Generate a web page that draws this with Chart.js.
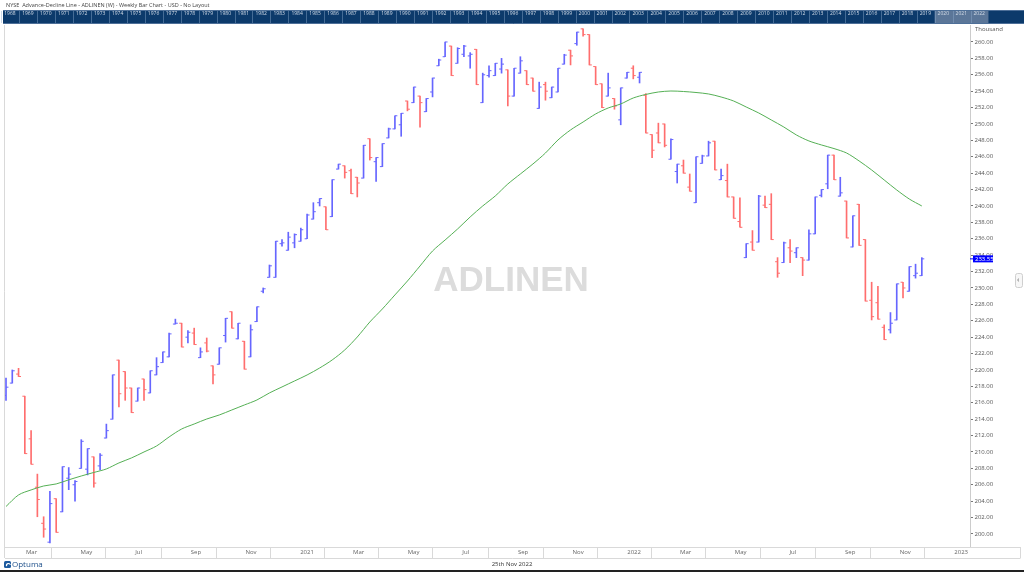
<!DOCTYPE html>
<html>
<head>
<meta charset="utf-8">
<script src="https://cdn.jsdelivr.net/npm/chart.js@4.4.1/dist/chart.umd.min.js"></script>
<style>
  html, body { margin: 0; padding: 0; background: #fff; }
  #wrap { width: 1024px; height: 572px; }
</style>
</head>
<body>
<div id="wrap"><canvas id="adl" width="1024" height="572"></canvas></div>
<script>
// Weekly OHLC of the NYSE Advance-Decline Line (thousands), first bar week of 10 Feb 2020
const firstBarDate = '2020-02-10';

const opens = [
  216.9, 218.4, 219.5, 216.8, 211.6, 205.7, 201.3, 199.0, 204.3, 202.7,
  206.8, 206.0, 208.0, 207.9, 209.4, 208.3, 211.7, 214.0, 221.2, 219.8,
  217.8, 216.2, 218.9, 217.2, 219.4, 220.9, 221.6, 225.6, 225.7, 224.0,
  224.5, 221.5, 223.3, 220.5, 220.7, 224.2, 227.1, 223.8, 223.5, 221.6,
  225.9, 229.6, 231.3, 231.3, 235.4, 234.6, 235.5, 235.7, 236.0, 238.4,
  240.4, 239.9, 238.7, 244.5, 244.9, 244.3, 243.5, 243.4, 248.2, 245.4,
  244.8, 248.3, 249.4, 249.9, 252.8, 252.6, 253.4, 251.5, 253.9, 257.1,
  258.2, 259.5, 257.4, 258.5, 258.3, 259.1, 252.6, 255.9, 255.9, 256.7,
  256.6, 253.4, 256.2, 256.5, 255.6, 251.9, 254.8, 253.2, 253.9, 257.3,
  259.0, 259.8, 261.6, 260.9, 257.0, 254.9, 253.4, 253.1, 250.5, 255.6,
  256.8, 255.7, 253.5, 248.7, 248.9, 250.0, 245.7, 244.2, 244.9, 242.3,
  240.4, 245.2, 246.1, 247.9, 243.2, 243.1, 241.1, 238.1, 233.7, 235.6,
  235.6, 240.1, 240.2, 233.2, 233.1, 234.9, 234.3, 233.7, 233.4, 236.6,
  241.3, 242.7, 246.2, 241.2, 240.6, 235.0, 240.2, 235.9, 228.5, 228.2,
  225.2, 224.9, 226.1, 230.7, 229.6, 231.5, 231.5
];
const highs = [
  219.0, 220.0, 220.2, 216.8, 212.6, 207.3, 202.1, 205.2, 204.3, 208.2,
  208.1, 206.5, 211.5, 210.4, 209.4, 209.8, 213.4, 219.4, 221.2, 219.8,
  217.8, 217.8, 218.9, 219.9, 221.5, 222.2, 224.5, 226.2, 225.7, 224.8,
  225.1, 222.7, 223.9, 220.5, 222.7, 226.3, 227.1, 225.7, 223.5, 225.5,
  227.7, 230.0, 232.8, 235.7, 235.9, 236.8, 236.6, 237.3, 239.0, 240.4,
  240.9, 239.9, 243.2, 245.1, 244.9, 244.5, 243.5, 247.4, 248.2, 245.9,
  247.6, 249.5, 251.0, 251.3, 252.8, 254.5, 253.4, 253.1, 255.6, 257.9,
  260.0, 259.5, 259.3, 259.6, 258.7, 259.1, 256.2, 257.1, 257.4, 258.0,
  256.6, 256.8, 258.2, 256.5, 255.6, 255.1, 255.1, 254.5, 256.8, 258.5,
  259.0, 261.2, 261.6, 260.9, 257.0, 254.9, 256.2, 253.1, 254.4, 256.3,
  257.1, 256.3, 253.7, 248.7, 250.1, 250.0, 248.2, 245.1, 245.6, 243.9,
  246.0, 246.2, 247.9, 247.9, 244.5, 245.1, 241.1, 241.0, 235.4, 237.0,
  241.3, 241.2, 241.5, 233.7, 235.6, 235.9, 234.9, 233.7, 237.1, 241.1,
  242.0, 246.2, 246.2, 243.5, 240.6, 238.8, 240.2, 235.9, 230.7, 230.2,
  225.5, 227.0, 230.5, 230.7, 232.6, 232.9, 233.7
];
const lows = [
  216.3, 218.4, 219.2, 209.8, 208.5, 202.1, 199.6, 198.9, 200.2, 202.7,
  205.4, 204.0, 208.0, 207.2, 205.7, 207.8, 211.7, 214.0, 215.5, 216.3,
  214.8, 216.2, 216.3, 217.2, 219.4, 220.9, 221.6, 225.6, 222.8, 223.3,
  223.1, 221.5, 222.2, 218.3, 220.7, 223.4, 225.1, 223.8, 220.1, 221.6,
  225.9, 229.4, 231.3, 231.3, 235.1, 234.6, 234.9, 235.7, 236.0, 238.4,
  240.0, 237.1, 238.7, 244.5, 243.4, 241.5, 241.1, 243.4, 245.6, 243.0,
  244.8, 248.3, 249.4, 248.5, 251.6, 252.6, 249.6, 251.5, 253.3, 257.1,
  258.2, 255.9, 257.4, 258.2, 256.8, 254.8, 252.6, 255.7, 255.9, 256.2,
  252.2, 253.4, 256.2, 254.8, 254.0, 251.9, 252.9, 253.2, 253.9, 257.3,
  257.2, 259.6, 260.7, 257.2, 254.8, 252.0, 253.4, 251.8, 249.9, 255.6,
  255.5, 255.0, 248.9, 245.9, 247.7, 247.2, 245.7, 242.8, 244.0, 241.8,
  240.4, 245.2, 246.1, 244.4, 243.2, 241.1, 238.5, 237.4, 233.7, 234.6,
  235.6, 239.8, 235.9, 231.3, 233.1, 233.1, 233.7, 231.5, 233.4, 236.6,
  241.1, 242.1, 243.2, 241.2, 236.1, 235.0, 235.2, 228.4, 226.1, 226.2,
  223.7, 224.5, 226.1, 228.8, 229.6, 231.2, 231.5
];
const closes = [
  217.9, 219.9, 219.2, 209.8, 208.5, 204.2, 200.6, 203.7, 200.2, 208.2,
  207.3, 206.4, 211.3, 210.4, 206.2, 209.6, 212.6, 219.4, 217.1, 217.8,
  214.8, 217.8, 217.6, 219.9, 220.4, 222.2, 224.4, 225.7, 222.8, 224.6,
  223.1, 222.2, 222.3, 219.4, 222.7, 226.3, 225.1, 225.7, 220.1, 224.9,
  227.7, 229.9, 232.7, 235.7, 235.5, 236.2, 236.5, 237.1, 238.9, 239.3,
  240.9, 237.1, 243.2, 245.1, 244.1, 241.5, 242.8, 247.4, 245.9, 245.9,
  247.6, 249.4, 251.0, 251.3, 251.8, 254.5, 252.6, 253.1, 255.6, 257.8,
  260.0, 255.9, 259.2, 259.5, 258.5, 254.8, 256.0, 256.5, 257.4, 257.3,
  253.4, 256.8, 257.7, 254.8, 254.0, 254.5, 254.0, 254.5, 256.8, 258.4,
  258.3, 261.2, 260.9, 257.2, 254.8, 252.0, 254.4, 252.2, 254.4, 256.3,
  255.9, 256.3, 248.9, 246.8, 247.7, 247.4, 248.1, 245.1, 244.0, 241.8,
  246.0, 246.1, 247.7, 244.4, 243.7, 241.1, 238.5, 237.4, 235.4, 234.6,
  241.2, 239.8, 235.9, 231.8, 235.5, 234.5, 234.9, 233.4, 236.6, 241.1,
  242.0, 246.2, 243.2, 241.6, 236.1, 238.8, 235.2, 228.4, 226.5, 226.2,
  223.7, 225.7, 230.5, 230.0, 232.6, 231.8, 233.55
];

// green moving average, read every second week
const maValues = [
  203.35, 204.76, 205.37, 205.85, 206.10, 206.60, 207.07, 207.50, 207.93, 208.66,
  209.27, 210.00, 210.73, 211.83, 212.80, 213.41, 214.02, 214.51, 215.12, 215.73,
  216.34, 217.20, 217.93, 218.66, 219.39, 220.24, 221.22, 222.44, 224.02, 225.85,
  227.44, 229.15, 230.85, 232.68, 234.51, 235.85, 237.20, 238.66, 240.00, 241.22,
  242.68, 243.90, 245.12, 246.46, 248.05, 249.27, 250.24, 251.22, 251.95, 252.44,
  253.17, 253.60, 253.90, 254.02, 253.96, 253.84, 253.66, 253.29, 252.80, 252.07,
  251.34, 250.49, 249.63, 248.66, 247.93, 247.44, 247.00, 246.46, 245.49, 244.39,
  243.17, 241.95, 240.85, 240.00
];
const maStep = 2;

const monthTickDates = [
  '2020-03-01', '2020-05-01', '2020-07-01', '2020-09-01', '2020-11-01',
  '2021-01-01', '2021-03-01', '2021-05-01', '2021-07-01', '2021-09-01', '2021-11-01',
  '2022-01-01', '2022-03-01', '2022-05-01', '2022-07-01', '2022-09-01', '2022-11-01',
  '2023-01-01'
];
const monthTickLabels = [
  'Mar', 'May', 'Jul', 'Sep', 'Nov',
  '2021', 'Mar', 'May', 'Jul', 'Sep', 'Nov',
  '2022', 'Mar', 'May', 'Jul', 'Sep', 'Nov',
  '2023'
];

const yTicks = [];
for (let v = 200; v <= 260; v += 2) yTicks.push(v);

const overviewYears = [];
for (let y = 1968; y <= 2022; y++) overviewYears.push(String(y));

const lastCloseLabel = '233.55';
const titleText = 'NYSE  Advance-Decline Line - ADLINEN (W) - Weekly Bar Chart - USD - No Layout';
const footerDate = '25th Nov 2022';
const watermark = 'ADLINEN';

const UP = '#6666ff';
const DOWN = '#ff6e6e';
const FONT = "'Open Sans', 'Noto Sans', sans-serif";

// week index of a calendar date
const WEEK = 7 * 864e5;
const weekOf = d => (Date.parse(d) - Date.parse(firstBarDate)) / WEEK;

const barColors = opens.map((o, i) => closes[i] >= o ? UP : DOWN);
const ranges = lows.map((l, i) => ({ x: i, y: [l, highs[i]] }));
const tickOff = 0.2;
const openPts = opens.map((o, i) => ({ x: i - tickOff, y: o }));
const closePts = closes.map((c, i) => ({ x: i + tickOff, y: c }));
const maPts = maValues.map((v, k) => ({ x: k * maStep, y: v }));

// frame: header band, watermark, price tag, footer
const frame = {
  id: 'frame',
  beforeDraw(chart) {
    const c = chart.ctx;
    c.save();
    c.fillStyle = '#fff';
    c.fillRect(0, 0, chart.width, chart.height);

    c.fillStyle = '#444';
    c.font = `5.5px ${FONT}`;
    c.textBaseline = 'middle';
    c.fillText(titleText, 6, 5.5);

    // year overview band
    c.fillStyle = '#0c3a6b';
    c.fillRect(3, 10, 1021, 14);
    const cellW = 17.95, cell0 = 1.2;
    const hiStart = cell0 + 52 * cellW;
    c.fillStyle = '#5b7698';
    c.fillRect(hiStart, 10, 3 * cellW, 14);
    c.strokeStyle = '#4d6f98';
    c.lineWidth = 1;
    c.beginPath();
    c.moveTo(3, 10.5); c.lineTo(1024, 10.5);
    c.moveTo(3, 23.5); c.lineTo(1024, 23.5);
    c.stroke();
    c.font = `5px ${FONT}`;
    overviewYears.forEach((y, k) => {
      const x0 = cell0 + k * cellW;
      c.strokeStyle = 'rgba(140,170,205,0.45)';
      c.beginPath();
      c.moveTo(Math.round(x0) + 0.5, 11); c.lineTo(Math.round(x0) + 0.5, 23);
      c.stroke();
      c.fillStyle = '#d5dde8';
      c.fillText(y, x0 + 3, 14);
    });
    c.restore();
  },
  beforeDatasetsDraw(chart) {
    const c = chart.ctx;
    c.save();
    c.fillStyle = '#dcdcdc';
    c.font = `bold 35px 'Liberation Sans', Arial, sans-serif`;
    c.textAlign = 'center';
    c.textBaseline = 'middle';
    c.fillText(watermark, 511, 281);
    c.restore();
  },
  afterDraw(chart) {
    const c = chart.ctx, a = chart.chartArea, ys = chart.scales.y;
    c.save();
    c.strokeStyle = '#d9d9d9';
    c.lineWidth = 1;
    c.beginPath();
    c.moveTo(a.left - 0.5, a.top); c.lineTo(a.left - 0.5, 558);
    c.moveTo(a.left, 558.5); c.lineTo(1020, 558.5);
    c.moveTo(a.right, a.bottom + 0.5); c.lineTo(1020, a.bottom + 0.5);
    c.moveTo(1020.5, a.bottom); c.lineTo(1020.5, 558.5);
    c.stroke();

    c.fillStyle = '#555';
    c.font = `6px ${FONT}`;
    c.textBaseline = 'middle';
    c.fillText('Thousand', 975, 29.5);

    // last value tag
    const py = ys.getPixelForValue(closes[closes.length - 1]);
    c.fillStyle = '#0000ff';
    c.fillRect(973, py - 3.5, 20, 7);
    c.fillRect(970, py - 0.5, 4, 1);
    c.fillStyle = '#fff';
    c.font = `6px ${FONT}`;
    c.fillText(lastCloseLabel, 975, py + 0.3);

    // side tab
    c.strokeStyle = '#cfcfcf';
    c.fillStyle = '#f7f7f7';
    c.beginPath();
    c.roundRect(1015.5, 273.5, 7, 14, 2);
    c.fill(); c.stroke();
    c.fillStyle = '#555';
    c.font = `8px ${FONT}`;
    c.fillText('‹', 1017, 280);

    // footer
    c.fillStyle = '#1d5a9e';
    c.beginPath();
    c.roundRect(4, 561, 7, 7, 1.5);
    c.fill();
    c.strokeStyle = '#fff';
    c.lineWidth = 1.2;
    c.beginPath();
    c.arc(8.5, 565.5, 2, Math.PI * 0.9, Math.PI * 1.9);
    c.stroke();
    c.fillStyle = '#1d4f8a';
    c.font = `8px ${FONT}`;
    c.fillText('Optuma', 12, 565);
    c.fillStyle = '#333';
    c.font = `6px ${FONT}`;
    c.textAlign = 'center';
    c.fillText(footerDate, 512, 564);
    c.fillStyle = '#222';
    c.fillRect(0, 570, chart.width, 2);
    c.restore();
  }
};

const xMin = -0.16, xMax = 153.68;
const yMin = 198.41, yMax = 262.07;

new Chart(document.getElementById('adl').getContext('2d'), {
  type: 'bar',
  data: {
    datasets: [
      {
        type: 'line',
        data: maPts,
        borderColor: '#55b055',
        borderWidth: 1,
        pointRadius: 0,
        tension: 0.3,
        order: 0,
      },
      {
        type: 'bar',
        data: ranges,
        backgroundColor: barColors,
        barThickness: 1,
        grouped: false,
        order: 1,
      },
      {
        type: 'scatter',
        data: openPts,
        pointStyle: 'line',
        pointRadius: 1.2,
        pointBorderWidth: 1,
        pointBorderColor: barColors,
        order: 2,
      },
      {
        type: 'scatter',
        data: closePts,
        pointStyle: 'line',
        pointRadius: 1.2,
        pointBorderWidth: 1,
        pointBorderColor: barColors,
        order: 2,
      },
    ],
  },
  options: {
    responsive: false,
    animation: false,
    events: [],
    layout: { padding: { left: 3, top: 25, right: 0, bottom: 0 } },
    plugins: {
      legend: { display: false },
      tooltip: { enabled: false },
    },
    scales: {
      x: {
        type: 'linear',
        min: xMin,
        max: xMax,
        offset: false,
        afterBuildTicks: s => { s.ticks = monthTickDates.map(d => ({ value: weekOf(d) })); },
        afterFit: s => { s.height = 25; },
        grid: { drawOnChartArea: false, drawTicks: true, tickLength: 11, color: '#d9d9d9' },
        border: { display: true, color: '#d9d9d9' },
        ticks: {
          autoSkip: false,
          maxRotation: 0,
          align: 'start',
          labelOffset: 2,
          padding: -9,
          color: '#666',
          font: { family: FONT, size: 6 },
          callback: (v, i) => monthTickLabels[i],
        },
      },
      y: {
        position: 'right',
        min: yMin,
        max: yMax,
        afterBuildTicks: s => { s.ticks = yTicks.map(v => ({ value: v })); },
        afterFit: s => { s.width = 54; },
        grid: { drawOnChartArea: false, tickLength: 3, color: '#777' },
        border: { display: true, color: '#cccccc' },
        ticks: {
          padding: 1.5,
          color: '#555',
          font: { family: FONT, size: 6 },
          callback: v => v.toFixed(2),
        },
      },
    },
  },
  plugins: [frame],
});
</script>
</body>
</html>
